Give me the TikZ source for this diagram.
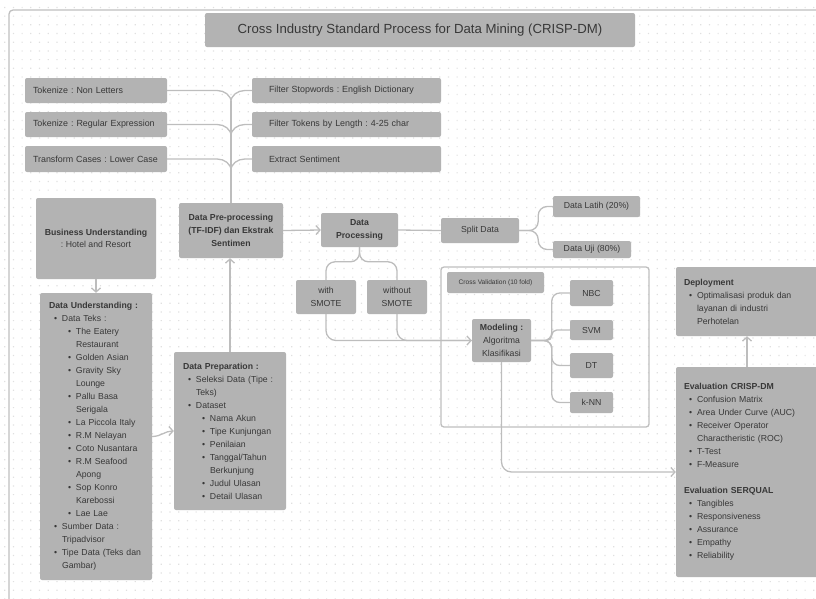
\documentclass[tikz,border=0pt]{standalone}
\usepackage{fontspec}
\setmainfont{Liberation Sans}
\usetikzlibrary{arrows.meta}

\definecolor{boxc}{HTML}{B3B3B3}
\definecolor{txtc}{HTML}{383838}
\definecolor{linec}{HTML}{BDBDBD}
\definecolor{framec}{HTML}{BFBFBF}
\definecolor{dotc}{HTML}{E0E0E0}

\newcommand{\bul}[1]{\hspace*{5pt}\makebox[8pt][l]{\textbullet}#1}
\newcommand{\bulb}[1]{\hspace*{19pt}\makebox[8pt][l]{\textbullet}#1}
\newcommand{\cont}[1]{\hspace*{13pt}#1}
\newcommand{\contb}[1]{\hspace*{27pt}#1}

\begin{document}
\frenchspacing
\begin{tikzpicture}[x=1pt, y=1pt,
  box/.style={fill=boxc, rounded corners=2, text=txtc, inner sep=0pt, align=center, font=\fontsize{8.7}{13}\selectfont},
  top/.style={box, align=left, minimum height=25, font=\fontsize{8.9}{11}\selectfont},
  lst/.style={box, align=left},
  conn/.style={draw=linec, line width=1.3pt},
  arr/.style={conn, -{Straight Barb[length=4pt, width=9pt]}}]

\useasboundingbox (0,0) rectangle (816,-598);
\foreach \j in {0,...,68}
  \fill[dotc] \foreach \i in {0,...,93} {(4.1+\i*8.7, -6.8-\j*8.7) rectangle ++(1.2,-1.2)};
\draw[framec, line width=1.3pt, rounded corners=4] (9,-10) rectangle (830,-612);

\node[box, minimum width=430, minimum height=34, font=\fontsize{13.2}{16}\selectfont] (title) at (420,-30) {Cross Industry Standard Process for Data Mining (CRISP-DM)};

\node[top, inner xsep=8, text width=126] (tok1) at (96,-90.5) {Tokenize : Non Letters};
\node[top, inner xsep=8, text width=126] (tok2) at (96,-124.5) {Tokenize : Regular Expression};
\node[top, inner xsep=8, text width=126, minimum height=26] (trans) at (96,-159) {Transform Cases : Lower Case};

\node[top, inner xsep=17, text width=155] (filt1) at (346.5,-90.5) {Filter Stopwords : English Dictionary};
\node[top, inner xsep=17, text width=155] (filt2) at (346.5,-124.5) {Filter Tokens by Length : 4-25 char};
\node[top, inner xsep=17, text width=155, minimum height=26] (extr) at (346.5,-159) {Extract Sentiment};

\node[box, minimum width=120, minimum height=81, font=\fontsize{8.7}{12}\selectfont] (bu) at (96,-238.5) {\textbf{Business Understanding}\\: Hotel and Resort};

\node[lst, inner xsep=9, text width=94, minimum height=287] (du) at (96,-436.5) {\textbf{Data Understanding :}\\
\bul{Data Teks :}\\
\bulb{The Eatery}\\ \contb{Restaurant}\\
\bulb{Golden Asian}\\
\bulb{Gravity Sky}\\ \contb{Lounge}\\
\bulb{Pallu Basa}\\ \contb{Serigala}\\
\bulb{La Piccola Italy}\\
\bulb{R.M Nelayan}\\
\bulb{Coto Nusantara}\\
\bulb{R.M Seafood}\\ \contb{Apong}\\
\bulb{Sop Konro}\\ \contb{Karebossi}\\
\bulb{Lae Lae}\\
\bul{Sumber Data :}\\ \cont{Tripadvisor}\\
\bul{Tipe Data (Teks dan}\\ \cont{Gambar)}};

\node[lst, inner xsep=9, text width=94, minimum height=158] (dprep) at (230,-431) {\textbf{Data Preparation :}\\
\bul{Seleksi Data (Tipe :}\\ \cont{Teks)}\\
\bul{Dataset}\\
\bulb{Nama Akun}\\
\bulb{Tipe Kunjungan}\\
\bulb{Penilaian}\\
\bulb{Tanggal/Tahun}\\ \contb{Berkunjung}\\
\bulb{Judul Ulasan}\\
\bulb{Detail Ulasan}};

\node[box, minimum width=104, minimum height=55, font=\fontsize{8.7}{13}\selectfont\bfseries] (prep) at (231,-230.5) {Data Pre-processing\\(TF-IDF) dan Ekstrak\\Sentimen};
\node[box, minimum width=77, minimum height=34, font=\fontsize{8.7}{13}\selectfont\bfseries] (dproc) at (359.5,-230) {Data\\Processing};
\node[box, minimum width=78, minimum height=25] (split) at (480,-230.5) {Split Data};
\node[box, minimum width=87, minimum height=21] (latih) at (596.5,-206.5) {Data Latih (20\%)};
\node[box, minimum width=78, minimum height=17] (uji) at (592,-249.5) {Data Uji (80\%)};

\node[box, minimum width=60, minimum height=34] (with) at (326,-297) {with\\SMOTE};
\node[box, minimum width=60, minimum height=34] (without) at (397,-297) {without\\SMOTE};

\draw[framec, line width=1.3pt, rounded corners=3] (441,-267) rectangle (649,-427);
\node[box, minimum width=97, minimum height=21, font=\fontsize{6.6}{8}\selectfont] (cv) at (495.5,-282.5) {Cross Validation (10 fold)};
\node[box, minimum width=59, minimum height=43] (model) at (501.5,-340.5) {\textbf{Modeling :}\\Algoritma\\Klasifikasi};
\node[box, minimum width=43, minimum height=26] (nbc) at (591.5,-293) {NBC};
\node[box, minimum width=43, minimum height=20] (svm) at (591.5,-330) {SVM};
\node[box, minimum width=43, minimum height=25] (dt) at (591.5,-365.5) {DT};
\node[box, minimum width=43, minimum height=21] (knn) at (591.5,-402.5) {k-NN};

\node[lst, inner xsep=8, text width=126, minimum height=69] (deploy) at (747,-301.5) {\textbf{Deployment}\\
\bul{Optimalisasi produk dan}\\ \cont{layanan di industri}\\ \cont{Perhotelan}};

\node[lst, inner xsep=8, text width=126, minimum height=210] (eval) at (747,-472) {\textbf{Evaluation CRISP-DM}\\
\bul{Confusion Matrix}\\
\bul{Area Under Curve (AUC)}\\
\bul{Receiver Operator}\\ \cont{Charactheristic (ROC)}\\
\bul{T-Test}\\
\bul{F-Measure}\\[13pt]
\textbf{Evaluation SERQUAL}\\
\bul{Tangibles}\\
\bul{Responsiveness}\\
\bul{Assurance}\\
\bul{Empathy}\\
\bul{Reliability}};

\draw[conn] (tok1.east) -- ++(50,0) to[out=0,in=90] ++(14,-12);
\draw[conn] (tok2.east) -- ++(50,0) to[out=0,in=90] ++(14,-12);
\draw[conn] (trans.east) -- ++(50,0) to[out=0,in=90] ++(14,-12);
\draw[conn] (filt1.west) -- ++(-7,0) to[out=180,in=90] ++(-14,-12);
\draw[conn] (filt2.west) -- ++(-7,0) to[out=180,in=90] ++(-14,-12);
\draw[conn] (extr.west) -- ++(-7,0) to[out=180,in=90] ++(-14,-12);
\coordinate (sp) at (231,-101);
\draw[conn] (sp) -- (prep.north);

\draw[arr] (bu.south) -- (du.north);
\draw[arr] (du.east) to[out=0,in=180] (dprep.west);
\draw[arr] (dprep.north) -- (dprep.north |- prep.south);
\draw[arr] (prep.east) -- (dproc.west);
\draw[conn] (dproc.east) -- (split.west);
\draw[conn, rounded corners=9] (split.east) -- ++(19,0) |- (latih.west);
\draw[conn, rounded corners=9] (split.east) -- ++(19,0) |- (uji.west);

\draw[conn, rounded corners=9] (dproc.south) |- ([yshift=18]with.north) -- (with.north);
\draw[conn, rounded corners=9] (dproc.south) |- ([yshift=18]without.north) -- (without.north);
\draw[arr, rounded corners=10] (with.south) |- (model.west);
\draw[conn, rounded corners=10] (without.south) |- (model.west);

\foreach \a/\r in {nbc/8,svm/5,dt/8,knn/8}
  \draw[conn, rounded corners=\r] (model.east) -| ([xshift=-18]\a.west) -- (\a.west);

\draw[arr, rounded corners=10] (model.south) |- (eval.west);
\draw[arr] (eval.north) -- (deploy.south);

\end{tikzpicture}
\end{document}
